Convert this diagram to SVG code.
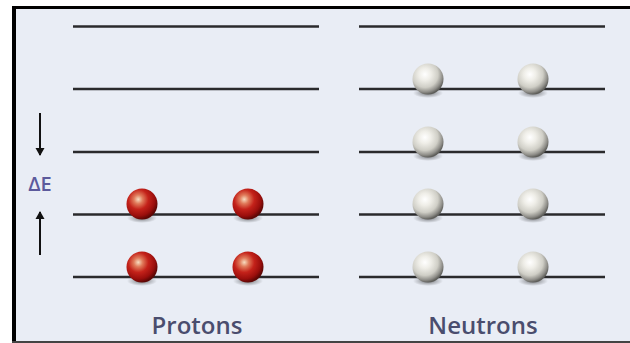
<svg xmlns="http://www.w3.org/2000/svg" width="630" height="343" viewBox="0 0 630 343">
<defs>
  <style>
    .lvl { stroke: #2a2a2c; stroke-width: 2.6; }
    .arr { stroke: #111; stroke-width: 2; fill: none; }
    .lbl { font-family: "Open Sans", "Liberation Sans", sans-serif; font-size: 24px; font-weight: 600; fill: #4a4d6e; text-anchor: middle; }
    .de { font-family: "Open Sans", "Liberation Sans", sans-serif; font-size: 20px; font-weight: 600; fill: #5c5a9c; text-anchor: middle; }
  </style>
  <radialGradient id="redG" cx="0.38" cy="0.35" r="0.65">
    <stop offset="0" stop-color="#f7dcc0"/>
    <stop offset="0.22" stop-color="#e07a5a"/>
    <stop offset="0.5" stop-color="#c4221a"/>
    <stop offset="0.82" stop-color="#9a0e0c"/>
    <stop offset="1" stop-color="#5e0705"/>
  </radialGradient>
  <radialGradient id="greyG" cx="0.4" cy="0.35" r="0.65">
    <stop offset="0" stop-color="#ffffff"/>
    <stop offset="0.3" stop-color="#efeee8"/>
    <stop offset="0.65" stop-color="#cfcec6"/>
    <stop offset="0.88" stop-color="#8e8d88"/>
    <stop offset="1" stop-color="#5e5e5a"/>
  </radialGradient>
  <radialGradient id="shadowG" cx="0.5" cy="0.5" r="0.5">
    <stop offset="0" stop-color="#000" stop-opacity="0.5"/>
    <stop offset="1" stop-color="#000" stop-opacity="0"/>
  </radialGradient>
  <marker id="ah" viewBox="0 0 8 10" refX="7" refY="5" markerWidth="8" markerHeight="10" orient="auto-start-reverse" markerUnits="userSpaceOnUse">
    <path d="M0,0.5 L8,5 L0,9.5 z" fill="#111"/>
  </marker>
  <g id="red">
    <ellipse cx="0" cy="14" rx="15" ry="5" fill="url(#shadowG)"/>
    <circle cx="0" cy="0" r="15.5" fill="url(#redG)"/>
  </g>
  <g id="grey">
    <ellipse cx="0" cy="14" rx="15" ry="5" fill="url(#shadowG)"/>
    <circle cx="0" cy="0" r="15.5" fill="url(#greyG)"/>
  </g>
</defs>

<rect x="0" y="0" width="630" height="343" fill="#ffffff"/>
<rect x="14" y="8" width="616" height="335" fill="#e9edf5"/>
<line x1="12" y1="7.5" x2="630" y2="7.5" stroke="#000" stroke-width="3"/>
<line x1="14" y1="6" x2="14" y2="343" stroke="#000" stroke-width="4"/>
<line x1="12" y1="342" x2="630" y2="342" stroke="#444" stroke-width="2"/>

<g id="connectors">
  <line class="arr" x1="40" y1="113" x2="40" y2="155" marker-end="url(#ah)"/>
  <line class="arr" x1="40" y1="255" x2="40" y2="212" marker-end="url(#ah)"/>
</g>

<g id="protons-levels">
  <line class="lvl" x1="73" y1="26.5" x2="319" y2="26.5"/>
  <line class="lvl" x1="73" y1="89" x2="319" y2="89"/>
  <line class="lvl" x1="73" y1="152" x2="319" y2="152"/>
  <line class="lvl" x1="73" y1="214.5" x2="319" y2="214.5"/>
  <line class="lvl" x1="73" y1="277" x2="319" y2="277"/>
</g>
<g id="neutrons-levels">
  <line class="lvl" x1="359" y1="26.5" x2="605" y2="26.5"/>
  <line class="lvl" x1="359" y1="89" x2="605" y2="89"/>
  <line class="lvl" x1="359" y1="152" x2="605" y2="152"/>
  <line class="lvl" x1="359" y1="214.5" x2="605" y2="214.5"/>
  <line class="lvl" x1="359" y1="277" x2="605" y2="277"/>
</g>

<g id="protons">
  <use href="#red" x="142" y="204"/>
  <use href="#red" x="248" y="204"/>
  <use href="#red" x="142" y="267"/>
  <use href="#red" x="248" y="267"/>
</g>
<g id="neutrons">
  <use href="#grey" x="428" y="79"/>
  <use href="#grey" x="533" y="79"/>
  <use href="#grey" x="428" y="142"/>
  <use href="#grey" x="533" y="142"/>
  <use href="#grey" x="428" y="204"/>
  <use href="#grey" x="533" y="204"/>
  <use href="#grey" x="428" y="267"/>
  <use href="#grey" x="533" y="267"/>
</g>

<g id="deltaE"><text class="de" x="40" y="191">ΔE</text></g>
<g id="label-protons"><text class="lbl" x="197" y="334">Protons</text></g>
<g id="label-neutrons"><text class="lbl" x="483" y="334">Neutrons</text></g>
</svg>
